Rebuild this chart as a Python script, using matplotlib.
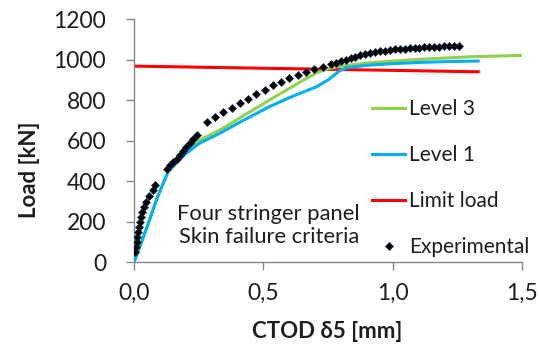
import matplotlib
matplotlib.use("Agg")
import matplotlib.pyplot as plt
from matplotlib.ticker import FuncFormatter

plt.rcParams['font.family'] = ['Lato', 'DejaVu Sans']

# Experimental CTOD / load readings
exp_ctod = [0.004, 0.008, 0.010, 0.013, 0.017, 0.020, 0.023, 0.027, 0.032, 0.039,
            0.046, 0.059, 0.072, 0.081,
            0.126, 0.139, 0.152, 0.165, 0.178, 0.190, 0.203, 0.216, 0.229, 0.242,
            0.281, 0.313, 0.345, 0.377, 0.409, 0.441, 0.473, 0.505, 0.537, 0.569,
            0.601, 0.633, 0.665, 0.697, 0.729, 0.761,
            0.780, 0.799, 0.818, 0.837, 0.856, 0.875, 0.894, 0.913, 0.932, 0.951,
            0.970, 0.989, 1.008, 1.027, 1.046, 1.065, 1.084, 1.103, 1.122, 1.141,
            1.160, 1.179, 1.198, 1.217, 1.236, 1.255]
exp_load = [50, 75, 100, 125, 150, 175, 200, 225, 250, 275,
            300, 325, 355, 383,
            462, 479, 495, 512, 528, 550, 569, 589, 610, 630,
            693, 716, 740, 763, 786, 808, 830, 850, 874, 892,
            908, 924, 939, 953, 965, 977,
            985, 992, 1000, 1008, 1015, 1021, 1027, 1032, 1037, 1041,
            1044, 1047, 1050, 1052, 1054, 1056, 1058, 1059, 1061, 1062,
            1063, 1064, 1065, 1066, 1067, 1068]

# Numerical predictions
level3_ctod = [0.0, 0.05, 0.09, 0.132, 0.2, 0.25, 0.332, 0.4, 0.525, 0.6, 0.705,
               0.75, 0.8, 0.9, 1.0, 1.1, 1.2, 1.3, 1.5]
level3_load = [0, 172, 318, 448, 545, 600, 653, 705, 802, 858, 935,
               955, 968, 983, 993, 1001, 1008, 1014, 1021]

level1_ctod = [0.0, 0.05, 0.09, 0.132, 0.2, 0.25, 0.332, 0.4, 0.525, 0.6, 0.65,
               0.705, 0.75, 0.795, 0.82, 0.9, 1.0, 1.1, 1.2, 1.33]
level1_load = [0, 172, 318, 448, 535, 585, 637, 685, 769, 812, 838,
               866, 900, 945, 960, 972, 980, 986, 990, 993]

limit_ctod = [0.0, 1.33]
limit_load = [968, 940]

x_ticks = [0.0, 0.5, 1.0, 1.5]
y_ticks = [0, 200, 400, 600, 800, 1000, 1200]

TEXT = '#1e1e1e'

fig = plt.figure(figsize=(5.4, 3.47), dpi=100)
ax = fig.add_axes([0.248, 0.244, 0.719, 0.701])

ax.plot(level3_ctod, level3_load, color='#92D050', lw=2.2, label='Level 3', zorder=3)
ax.plot(level1_ctod, level1_load, color='#00B0F0', lw=2.2, label='Level 1', zorder=3)
ax.plot(limit_ctod, limit_load, color='#FF0000', lw=2.2, label='Limit load', zorder=2)
ax.plot(exp_ctod, exp_load, ls='none', marker='D', ms=4.2, color='black',
        mec='#1c2c4c', mew=0.5, label='Experimental', zorder=4)

ax.set_xlim(0, 1.5)
ax.set_ylim(0, 1200)
ax.set_xticks(x_ticks)
ax.set_yticks(y_ticks)
ax.xaxis.set_major_formatter(FuncFormatter(lambda v, p: f"{v:.1f}".replace('.', ',')))

for side in ['top', 'right']:
    ax.spines[side].set_visible(False)
for side in ['left', 'bottom']:
    ax.spines[side].set_color('#888888')
    ax.spines[side].set_linewidth(1.0)
ax.tick_params(axis='both', direction='out', length=6, width=1.0, color='#888888',
               labelsize=16.5, labelcolor=TEXT)
ax.tick_params(axis='x', pad=9)
ax.tick_params(axis='y', pad=14)

ax.set_xlabel('CTOD δ5 [mm]', fontsize=16, fontweight='bold', color=TEXT, va='center')
ax.set_ylabel('Load [kN]', fontsize=16, fontweight='bold', color=TEXT, va='center')
ax.xaxis.set_label_coords(0.497, -0.285)
ax.yaxis.set_label_coords(-0.268, 0.379)

ax.text(0.521, 180, 'Four stringer panel\nSkin failure criteria', fontsize=15.8,
        ha='center', va='center', color=TEXT, linespacing=1.2)

leg = ax.legend(loc='upper left', bbox_to_anchor=(0.613, 0.672), frameon=False,
                fontsize=15, borderpad=0, borderaxespad=0, handlelength=1.6,
                handletextpad=0.2, labelspacing=1.25)
for t in leg.get_texts():
    t.set_color(TEXT)

fig.savefig('out.png', dpi=100)
